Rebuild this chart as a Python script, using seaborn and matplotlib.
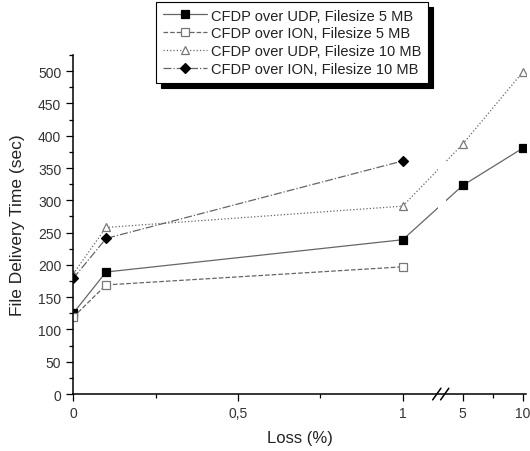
#!/usr/bin/python
'''
    File delivery time of CFDP over UDP / ION vs. packet loss,
    drawn on a broken x axis (0..1 linear, then 5 and 10)
'''
import matplotlib
matplotlib.use('Agg')
import matplotlib.pyplot as plt
import seaborn as sns

# Data
loss = [0, 0.1, 1, 5, 10]
udp_5mb = [125, 189, 239, 323, 381]
ion_5mb = [119, 169, 197]
udp_10mb = [186, 258, 291, 387, 499]
ion_10mb = [179, 241, 361]

x_tick_values = [0, 0.5, 1, 5, 10]
x_tick_labels = ['0', '0,5', '1', '5', '10']
y_ticks = list(range(0, 501, 50))

# after the break, one unit of loss takes this much axis length
BREAK_SCALE = 0.0366


def loss_to_pos(value):
    '''maps a loss value onto the broken axis'''
    if value <= 1:
        return value
    return 1.182 + (value - 5) * BREAK_SCALE


def main():
    '''main'''
    sns.set_theme(style='ticks')
    plt.rcParams['font.family'] = ['Liberation Sans', 'DejaVu Sans']

    fig = plt.figure(figsize=(5.3, 4.52), dpi=100)
    axes = fig.add_axes([0.138, 0.126, 0.855, 0.75])

    series = [
        ('CFDP over UDP, Filesize 5 MB', udp_5mb, '-', 's', 'black'),
        ('CFDP over ION, Filesize 5 MB', ion_5mb, '--', 's', 'white'),
        ('CFDP over UDP, Filesize 10 MB', udp_10mb, ':', '^', 'white'),
        ('CFDP over ION, Filesize 10 MB', ion_10mb, '-.', 'D', 'black'),
    ]
    for label, values, style, marker, face in series:
        xs = [loss_to_pos(v) for v in loss[:len(values)]]
        edge = 'black' if face == 'black' else '#777777'
        sns.lineplot(x=xs, y=values, ax=axes, label=label,
                     color='#666666', linewidth=0.9, linestyle=style,
                     marker=marker, markersize=6 if marker != 'D' else 5.5,
                     markerfacecolor=face, markeredgecolor=edge,
                     markeredgewidth=0.9)

    # gap in the lines at the axis break
    axes.axvspan(1.106, 1.130, color='white', zorder=2.2, lw=0)

    axes.set_xlim(0, 1.375)
    axes.set_ylim(0, 525)
    axes.set_xticks([loss_to_pos(v) for v in x_tick_values])
    axes.set_xticklabels(x_tick_labels)
    axes.set_xticks([0.25, 0.75, loss_to_pos(7.5)], minor=True)
    axes.set_yticks(y_ticks)
    axes.set_yticks(list(range(25, 526, 50)), minor=True)
    axes.tick_params(which='major', length=5, width=0.9, colors='black',
                     labelsize=10, labelcolor='#333333')
    axes.tick_params(which='minor', length=3, width=0.9, colors='black')

    sns.despine(ax=axes)
    for spine in ('left', 'bottom'):
        axes.spines[spine].set_linewidth(1.1)
        axes.spines[spine].set_color('black')
        axes.spines[spine].set_zorder(3)

    # the // marks on the x axis
    for start in (1.091, 1.115):
        axes.plot([start, start + 0.025], [-9, 9], color='black',
                  lw=1.1, clip_on=False, zorder=4)

    axes.set_xlabel('Loss (%)', fontsize=12, color='#222222', labelpad=7)
    axes.set_ylabel('File Delivery Time (sec)', fontsize=12.5,
                    color='#222222', labelpad=9)

    legend = axes.legend(loc='upper right',
                         bbox_to_anchor=(428 / 530, 1 - 3 / 452),
                         bbox_transform=fig.transFigure,
                         fontsize=10.5, frameon=True, fancybox=False,
                         shadow={'color': 'black', 'alpha': 1,
                                 'ox': 3.5, 'oy': -3.5},
                         edgecolor='black', handlelength=3.0,
                         labelspacing=0.27, borderpad=0.45,
                         handletextpad=0.3, borderaxespad=0)
    legend.get_frame().set_linewidth(0.8)
    for text in legend.get_texts():
        text.set_color('#222222')

    fig.savefig('out.png', dpi=100)


if __name__ == '__main__':
    main()
